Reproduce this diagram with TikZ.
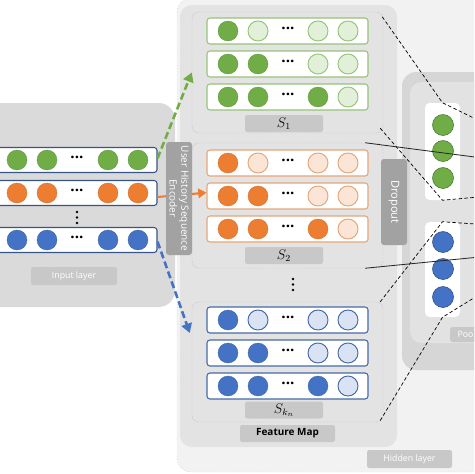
\documentclass[tikz,border=0pt]{standalone}
\usepackage{fontspec}
\setmainfont{Open Sans}
\usepackage{tikz}
\usetikzlibrary{positioning}
\usetikzlibrary{arrows.meta}
\definecolor{grnD}{RGB}{112,173,71}
\definecolor{grnL}{RGB}{226,240,217}
\definecolor{grnB}{RGB}{150,196,120}
\definecolor{orgD}{RGB}{237,125,49}
\definecolor{orgL}{RGB}{251,229,214}
\definecolor{orgB}{RGB}{230,165,120}
\definecolor{bluD}{RGB}{68,114,196}
\definecolor{bluL}{RGB}{218,227,243}
\definecolor{bluB}{RGB}{70,105,165}
\definecolor{inB}{RGB}{55,85,135}
\definecolor{hidGray}{RGB}{242,242,242}
\definecolor{mapGray}{RGB}{227,227,227}
\definecolor{inGray}{RGB}{218,218,218}
\definecolor{poolOut}{RGB}{214,214,214}
\definecolor{poolIn}{RGB}{226,226,226}
\definecolor{tagGray}{RGB}{200,200,200}
\definecolor{barGray}{RGB}{162,162,162}
\tikzset{rowbox/.style={draw,fill=white,rounded corners=2.5pt,line width=0.9pt,
                        minimum height=0.78cm,inner sep=0pt},
         dot/.style={circle,minimum size=0.6cm,inner sep=0pt},
         tag/.style={fill=tagGray,rounded corners=2pt,text=white,inner sep=0pt,
                     font=\fontsize{7.5}{9}\selectfont},
         bar/.style={fill=barGray,rounded corners=2.5pt,text=white,inner sep=0pt,
                     align=center,rotate=-90,font=\fontsize{8.5}{10}\selectfont},
         group/.style={draw=gray!45,dashed,dash pattern=on 2pt off 1pt,
                       rounded corners=6pt,minimum width=5.73cm,inner sep=0pt},
         hdots/.style={font=\fontsize{13}{13}\bfseries\selectfont},
         vdot/.style={circle,fill=black,inner sep=0pt,minimum size=2.4pt},
         zoom/.style={densely dashed,line width=0.6pt},
         cut/.style={line width=0.7pt,black!85}}

\begin{document}
\begin{tikzpicture}[x=0.03cm,y=-0.03cm]
    \useasboundingbox (0,0) rectangle (474,474);
    \clip (0,0) rectangle (474,474);
    \fill[white] (0,0) rectangle (474,474);

    % panels
    \draw[fill=hidGray,draw=gray!60,dotted,rounded corners=12pt] (177,-2) rectangle (520,472);
    \fill[mapGray,rounded corners=10pt] (180,5) rectangle (397,447);
    \fill[poolOut,rounded corners=12pt] (402,72) rectangle (520,370);
    \fill[poolIn,rounded corners=10pt] (410,82) rectangle (520,343);
    \fill[inGray,rounded corners=14pt] (-20,103) rectangle (175,307);

    \node[tag,minimum width=2.58cm,minimum height=0.54cm] (inTag) at (74,276) {Input layer};
    \node[tag,minimum width=2.55cm,minimum height=0.54cm] (hidTag) at (409.5,459) {Hidden layer};
    \node[tag,text=black,minimum width=2.85cm,minimum height=0.51cm,
          font=\fontsize{8.5}{9}\bfseries\selectfont] (mapTag) at (287.5,433.5) {Feature Map};
    \node[tag,anchor=west,minimum width=1.2cm,minimum height=0.45cm,
          text width=0.9cm,align=left] (poolTag) at (450,334.5) {\hspace{2pt}Poo};

    % input rows
    \foreach \n/\c/\y in {1/grn/160, 2/org/193, 3/blu/240}{
        \node[rowbox,draw=inB,minimum width=5.01cm,minimum height=0.75cm] (in\n) at (73.5,\y) {};
        \foreach \x in {17,47,108,138}
            \node[dot,fill=\c D,draw=\c D!85!black,line width=0.3pt] at (\x,\y) {};
        \node[hdots] at (77,\y-3) {...};
    }
    \foreach \y in {212,217.5,223} \node[vdot] at (77,\y) {};

    % feature map groups
    \node[group,minimum height=3.63cm] (gS1) at (287.5,72.5) {};
    \node[group,minimum height=3.75cm] (gS2) at (287.5,205.5) {};
    \node[group,minimum height=3.6cm] (gSk) at (287.5,362) {};

    \foreach \s/\c/\y in {1/grn/31, 2/org/163, k/blu/320}{
        \foreach \r in {1,2,3}{
            \node[rowbox,draw=\c B,minimum width=4.83cm] (r\s\r) at (287.5,{\y+33*(\r-1)}) {};
            \foreach \x [count=\i] in {228,258,318,348}{
                \ifnum\i>\r
                    \node[dot,fill=\c L,draw=\c B,line width=0.8pt] (c\s\r\i) at (\x,{\y+33*(\r-1)}) {};
                \else
                    \node[dot,fill=\c D,draw=\c D!85!black,line width=0.3pt] (c\s\r\i) at (\x,{\y+33*(\r-1)}) {};
                \fi
            }
            \node[hdots] at (288,{\y+33*(\r-1)-3}) {...};
        }
    }
    \node[tag,text=black,minimum width=2.34cm,minimum height=0.51cm,font=\large] (t1) at (284,123.5) {$S_1$};
    \node[tag,text=black,minimum width=2.34cm,minimum height=0.51cm,font=\large] (t2) at (284,255.5) {$S_2$};
    \node[tag,text=black,minimum width=2.34cm,minimum height=0.51cm,font=\large] (tk) at (284,410) {$S_{k_n}$};
    \foreach \y in {279,284.5,290} \node[vdot] at (293,\y) {};

    % pooled vectors
    \node[fill=white,rounded corners=4pt,minimum width=1.05cm,minimum height=2.91cm] (poolG) at (442.5,151.5) {};
    \node[fill=white,rounded corners=4pt,minimum width=1.05cm,minimum height=2.85cm] (poolB) at (442.5,269.5) {};
    \foreach \y in {125,151,178}
        \node[dot,minimum size=0.63cm,fill=grnD,draw=grnD!70!black,line width=0.5pt] at (443,\y) {};
    \foreach \y in {242,269,297}
        \node[dot,minimum size=0.63cm,fill=bluD,draw=bluD!70!black,line width=0.5pt] at (443,\y) {};

    % encoder arrows
    \draw[grnD,line width=2.2pt,dash pattern=on 6pt off 3pt,-{Triangle[length=8pt,width=9pt]}]
        ([yshift=0.05cm]in1.east) -- (gS1.west);
    \draw[orgD,line width=1.8pt,-{Triangle[length=7pt,width=8pt]}] ([yshift=-0.03cm]r22.west -| in2.east) -- ([yshift=0.1cm]r22.west);
    \draw[bluD,line width=2.2pt,dash pattern=on 6pt off 3pt,-{Triangle[length=8pt,width=9pt]}]
        ([yshift=-0.05cm]in3.east) -- ([xshift=-0.06cm,yshift=0.87cm]gSk.west);

    \node[bar,minimum width=3.39cm,minimum height=0.78cm] (enc) at (179,198.5) {User History Sequence\\Encoder};
    \node[bar,minimum width=2.58cm,minimum height=0.78cm,font=\fontsize{9.5}{10}\selectfont] (drop) at (394,202) {Dropout};

    % zoom lines
    \coordinate (z1) at (490,126); \coordinate (z2) at (490,196);
    \coordinate (z3) at (490,225); \coordinate (z4) at (490,288);
    \draw[zoom] ([xshift=-0.03cm,yshift=-0.15cm]gS1.north east) -- (poolG.north) -- (z1);
    \draw[zoom] ([xshift=-0.09cm,yshift=0.15cm]gS1.south east) -- (poolG.south) -- (z2);
    \draw[zoom] ([xshift=-0.09cm]gSk.north east) -- (poolB.north) -- (z3);
    \draw[zoom] ([xshift=-0.09cm,yshift=0.05cm]gSk.south east) -- (poolB.south) -- (z4);

    \coordinate (s1) at (490,159); \coordinate (s2) at (490,256);
    \draw[cut] ([xshift=-0.54cm]gS2.north east) -- (s1);
    \draw[cut] ([xshift=-0.54cm]gS2.south east) -- (s2);
\end{tikzpicture}
\end{document}
